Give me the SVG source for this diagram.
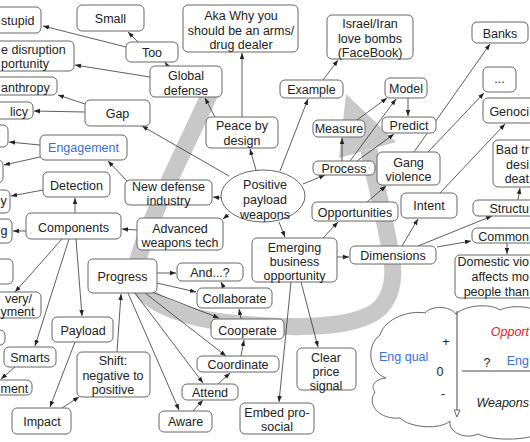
<svg xmlns="http://www.w3.org/2000/svg" width="530" height="442" viewBox="0 0 530 442">
<defs>
<marker id="ah" viewBox="0 0 10 10" refX="10" refY="5" markerWidth="6" markerHeight="6" markerUnits="userSpaceOnUse" orient="auto"><path d="M0,1.2 L10,5 L0,8.8 z" fill="#222"/></marker>
</defs>
<style>
.n rect, .n ellipse, .n path {fill:#fff; stroke:#666; stroke-width:1}
text {font-family:"Liberation Sans", Arial, Helvetica, sans-serif; font-size:12.5px; fill:#222}
.c {text-anchor:middle}
.e {text-anchor:end}
.blue {fill:#3a6fd8}
.red {fill:#e02020; font-style:italic}
.it {font-style:italic}
#edges path {fill:none; stroke:#333; stroke-width:0.8; marker-end:url(#ah)}
.ln {fill:none; stroke:#333; stroke-width:0.9}
</style>
<rect width="530" height="442" fill="#fff"/>
<g id="band">
<path d="M214,84 C190,140 146,222 136,268 C130,295 170,318 240,324 C300,329 350,328 375,312 C395,298 395,270 390,250 C385,220 375,180 369,150" fill="none" stroke="#c8c8c8" stroke-width="17"/>
<polygon points="346,94 339,158 396,142" fill="#c8c8c8"/>
</g>
<g id="edges">
<path d="M138,42 L128,32"/>
<path d="M126,47 L43,26"/>
<path d="M168,67 L165,62"/>
<path d="M150,77 L75,65"/>
<path d="M85,104 L58,95"/>
<path d="M85,112 L34,111"/>
<path d="M229,176 L142,126"/>
<path d="M40,145 L9,142"/>
<path d="M40,157 L4,165"/>
<path d="M128,182 L108,161"/>
<path d="M43,190 L11,196"/>
<path d="M75,213 L75,198"/>
<path d="M26,231 L13,231"/>
<path d="M137,230 L122,229"/>
<path d="M62,239 L15,292"/>
<path d="M69,239 L35,346"/>
<path d="M76,239 L82,316"/>
<path d="M15,367 L1,379"/>
<path d="M75,342 L50,407"/>
<path d="M62,408 L79,397"/>
<path d="M117,352 L121,294"/>
<path d="M157,273 L176,273"/>
<path d="M157,283 L196,292"/>
<path d="M152,292 L219,318"/>
<path d="M145,293 L226,356"/>
<path d="M135,293 L203,383"/>
<path d="M128,293 L179,410"/>
<path d="M193,411 L203,400"/>
<path d="M218,384 L230,373"/>
<path d="M241,356 L244,340"/>
<path d="M241,319 L239,309"/>
<path d="M224,288 L221,282"/>
<path d="M291,282 L279,402"/>
<path d="M301,282 L318,347"/>
<path d="M279,222 L285,237"/>
<path d="M256,170 L250,149"/>
<path d="M280,171 L308,99"/>
<path d="M222,198 L213,197"/>
<path d="M229,214 L223,219"/>
<path d="M303,184 L325,175"/>
<path d="M242,117 L242,53"/>
<path d="M215,117 L205,98"/>
<path d="M323,80 L338,60"/>
<path d="M342,161 L342,138"/>
<path d="M357,120 L387,98"/>
<path d="M350,161 L396,99"/>
<path d="M357,161 L394,134"/>
<path d="M408,98 L408,116"/>
<path d="M414,152 L490,44"/>
<path d="M428,152 L484,93"/>
<path d="M367,202 L386,186"/>
<path d="M323,238 L338,222"/>
<path d="M337,257 L349,257"/>
<path d="M402,246 L418,219"/>
<path d="M418,246 L492,216"/>
<path d="M437,247 L471,241"/>
<path d="M507,243 L507,254"/>
<path d="M518,200 L520,188"/>
<path d="M440,193 L505,124"/>
</g>
<g id="n-stupid" class="n"><rect x="-20" y="7" width="61" height="26" rx="5"/><text x="1" y="25">stupid</text></g>
<g id="n-disruption" class="n"><rect x="-20" y="41" width="94" height="30" rx="5"/><text x="1" y="54">e disruption</text><text x="1" y="68">portunity</text></g>
<g id="n-anthropy" class="n"><rect x="-20" y="77" width="77" height="18" rx="5"/><text x="1" y="91.5">anthropy</text></g>
<g id="n-licy" class="n"><rect x="-20" y="102" width="53" height="17" rx="5"/><text class="e" x="28" y="116">licy</text></g>
<g id="n-left5" class="n"><rect x="-20" y="125" width="28" height="22" rx="5"/></g>
<g id="n-left6" class="n"><rect x="-20" y="160" width="23" height="23" rx="5"/></g>
<g id="n-y" class="n"><rect x="-20" y="190" width="30" height="23" rx="5"/><text x="0.5" y="205">y</text></g>
<g id="n-g" class="n"><rect x="-20" y="219" width="32" height="24" rx="5"/><text x="0.5" y="235">g</text></g>
<g id="n-left9" class="n"><rect x="-20" y="259" width="33" height="25" rx="5"/></g>
<g id="n-very" class="n"><rect x="-20" y="292" width="61" height="26" rx="5"/><text class="e" x="32" y="302.5">very/</text><text x="0.5" y="316">yment</text></g>
<g id="n-left11" class="n"><rect x="-20" y="330" width="25" height="15" rx="5"/></g>
<g id="n-ment" class="n"><rect x="-20" y="380" width="52" height="15" rx="5"/><text x="0.5" y="392.5">ment</text></g>
<g id="n-smarts" class="n"><rect x="4" y="347" width="52" height="20" rx="5"/><text class="c" x="30" y="362">Smarts</text></g>
<g id="n-impact" class="n"><rect x="12" y="408" width="59" height="26" rx="5"/><text class="c" x="42" y="426">Impact</text></g>
<g id="n-payload" class="n"><rect x="52" y="317" width="61" height="25" rx="5"/><text class="c" x="83" y="334.5">Payload</text></g>
<g id="n-shift" class="n"><rect x="77" y="352" width="73" height="45" rx="5"/><text class="c" x="113" y="364.5">Shift:</text><text class="c" x="113" y="379.5">negative to</text><text class="c" x="113" y="394">positive</text></g>
<g id="n-aware" class="n"><rect x="159" y="411" width="53" height="21" rx="5"/><text class="c" x="185.5" y="426">Aware</text></g>
<g id="n-attend" class="n"><rect x="182" y="384" width="56" height="16" rx="5"/><text class="c" x="210" y="396.5">Attend</text></g>
<g id="n-coordinate" class="n"><rect x="197" y="356" width="82" height="16" rx="5"/><text class="c" x="238" y="369">Coordinate</text></g>
<g id="n-cooperate" class="n"><rect x="211" y="319" width="73" height="20" rx="5"/><text class="c" x="247.5" y="335">Cooperate</text></g>
<g id="n-collaborate" class="n"><rect x="197" y="288" width="75" height="20" rx="5"/><text class="c" x="234.5" y="303">Collaborate</text></g>
<g id="n-and" class="n"><rect x="177" y="263" width="66" height="18" rx="5"/><text class="c" x="210" y="277">And...?</text></g>
<g id="n-progress" class="n"><rect x="88" y="259" width="69" height="34" rx="5"/><text class="c" x="122.5" y="280.5">Progress</text></g>
<g id="n-embed" class="n"><rect x="240" y="403" width="74" height="31" rx="5"/><text class="c" x="277" y="417">Embed pro-</text><text class="c" x="277" y="431">social</text></g>
<g id="n-clear" class="n"><rect x="297" y="348" width="59" height="42" rx="5"/><text class="c" x="326" y="361.5">Clear</text><text class="c" x="326" y="375.5">price</text><text class="c" x="326" y="390">signal</text></g>
<g id="n-emerging" class="n"><rect x="252" y="238" width="85" height="44" rx="5"/><text class="c" x="294.5" y="251.5">Emerging</text><text class="c" x="294.5" y="265.5">business</text><text class="c" x="294.5" y="279.5">opportunity</text></g>
<g id="n-positive" class="n"><ellipse cx="263" cy="196" rx="42" ry="26"/><text class="c" x="265" y="188.5">Positive</text><text class="c" x="265" y="204">payload</text><text class="c" x="265" y="218.5">weapons</text></g>
<g id="n-newdef" class="n"><rect x="125" y="180" width="87" height="25" rx="5"/><text class="c" x="168.5" y="190.5">New defense</text><text class="c" x="168.5" y="205">industry</text></g>
<g id="n-advanced" class="n"><rect x="137" y="218" width="86" height="32" rx="5"/><text class="c" x="180" y="232.5">Advanced</text><text class="c" x="180" y="247">weapons tech</text></g>
<g id="n-components" class="n"><rect x="26" y="213" width="95" height="26" rx="5"/><text class="c" x="73.5" y="231.5">Components</text></g>
<g id="n-detection" class="n"><rect x="43" y="172" width="67" height="25" rx="5"/><text class="c" x="76.5" y="189.5">Detection</text></g>
<g id="n-engagement" class="n"><rect x="40" y="135" width="87" height="25" rx="5"/><text class="c blue" x="83.5" y="152">Engagement</text></g>
<g id="n-gap" class="n"><rect x="85" y="100" width="65" height="26" rx="5"/><text class="c" x="117.5" y="118">Gap</text></g>
<g id="n-too" class="n"><rect x="126" y="42" width="52" height="20" rx="5"/><text class="c" x="152" y="56.5">Too</text></g>
<g id="n-small" class="n"><rect x="77" y="5" width="67" height="26" rx="5"/><text class="c" x="110.5" y="23">Small</text></g>
<g id="n-global" class="n"><rect x="150" y="66" width="72" height="31" rx="5"/><text class="c" x="186" y="79.5">Global</text><text class="c" x="186" y="94.5">defense</text></g>
<g id="n-aka" class="n"><rect x="183" y="5" width="115" height="47" rx="5"/><text class="c" x="241" y="19.5">Aka Why you</text><text class="c" x="241" y="34.5">should be an arms/</text><text class="c" x="241" y="49">drug dealer</text></g>
<g id="n-peace" class="n"><rect x="206" y="117" width="72" height="31" rx="5"/><text class="c" x="242" y="130">Peace by</text><text class="c" x="242" y="144.5">design</text></g>
<g id="n-example" class="n"><rect x="280" y="80" width="63" height="18" rx="5"/><text class="c" x="311.5" y="94">Example</text></g>
<g id="n-israel" class="n"><rect x="327" y="15" width="86" height="44" rx="5"/><text class="c" x="370" y="27.5">Israel/Iran</text><text class="c" x="370" y="42.5">love bombs</text><text class="c" x="370" y="57">(FaceBook)</text></g>
<g id="n-model" class="n"><rect x="385" y="78" width="42" height="20" rx="5"/><text class="c" x="406" y="92.5">Model</text></g>
<g id="n-predict" class="n"><rect x="382" y="117" width="54" height="16" rx="5"/><text class="c" x="409" y="130">Predict</text></g>
<g id="n-measure" class="n"><rect x="313" y="120" width="52" height="17" rx="5"/><text class="c" x="339" y="133">Measure</text></g>
<g id="n-process" class="n"><rect x="313" y="161" width="62" height="14" rx="5"/><text class="c" x="344" y="172.5">Process</text></g>
<g id="n-gang" class="n"><rect x="377" y="152" width="63" height="33" rx="5"/><text class="c" x="408.5" y="167">Gang</text><text class="c" x="408.5" y="181">violence</text></g>
<g id="n-opportunities" class="n"><rect x="312" y="202" width="86" height="19" rx="5"/><text class="c" x="355" y="216.5">Opportunities</text></g>
<g id="n-intent" class="n"><rect x="401" y="193" width="56" height="25" rx="5"/><text class="c" x="429" y="210">Intent</text></g>
<g id="n-dimensions" class="n"><rect x="350" y="246" width="86" height="18" rx="5"/><text class="c" x="393" y="259.5">Dimensions</text></g>
<g id="n-structure" class="n"><rect x="473" y="200" width="80" height="16" rx="5"/><text class="e" x="529" y="212.5">Structu</text></g>
<g id="n-common" class="n"><rect x="472" y="228" width="80" height="15" rx="5"/><text class="e" x="529" y="240.5">Common</text></g>
<g id="n-domestic" class="n"><rect x="455" y="255" width="100" height="43" rx="5"/><text class="e" x="529" y="266">Domestic vio</text><text class="e" x="529" y="281">affects mo</text><text class="e" x="529" y="295.5">people than</text></g>
<g id="n-bad" class="n"><rect x="493" y="140" width="60" height="47" rx="5"/><text class="e" x="529" y="153.5">Bad tr</text><text class="e" x="529" y="168.5">desi</text><text class="e" x="529" y="183">deat</text></g>
<g id="n-banks" class="n"><rect x="472" y="22" width="56" height="21" rx="5"/><text class="c" x="500" y="37.5">Banks</text></g>
<g id="n-dots" class="n"><rect x="483" y="67" width="33" height="25" rx="5"/><text class="c" x="499.5" y="83">...</text></g>
<g id="n-genocide" class="n"><rect x="483" y="98" width="60" height="25" rx="5"/><text class="e" x="529" y="116">Genoci</text></g>
<g id="n-cloud" class="n">
<path d="M386,378 C368,372 366,345 380,335 C385,318 410,310 425,313 C432,305 450,306 456,314 C465,305 490,303 500,310 C512,304 540,306 545,318 L545,432 C530,440 495,442 478,434 C465,440 448,432 450,421 C440,430 410,428 400,418 C380,420 366,405 375,392 C370,386 375,379 386,378 Z"/>
<line class="ln" x1="457" y1="311" x2="457" y2="411"/>
<path d="M454,410 L457,417 L460,410 z" fill="#222" stroke="none"/>
<line class="ln" x1="462" y1="371" x2="540" y2="371"/>
<text class="blue" x="379" y="360.5">Eng qual</text>
<text class="c" x="446" y="346">+</text>
<text class="c" x="440" y="375.5">0</text>
<text class="c" x="443" y="398">-</text>
<text class="c" x="487" y="367">?</text>
<text class="blue e" x="529" y="365">Eng</text>
<text class="red e" x="529" y="336">Opport</text>
<text class="it e" x="529" y="407">Weapons</text>
</g>
</svg>
